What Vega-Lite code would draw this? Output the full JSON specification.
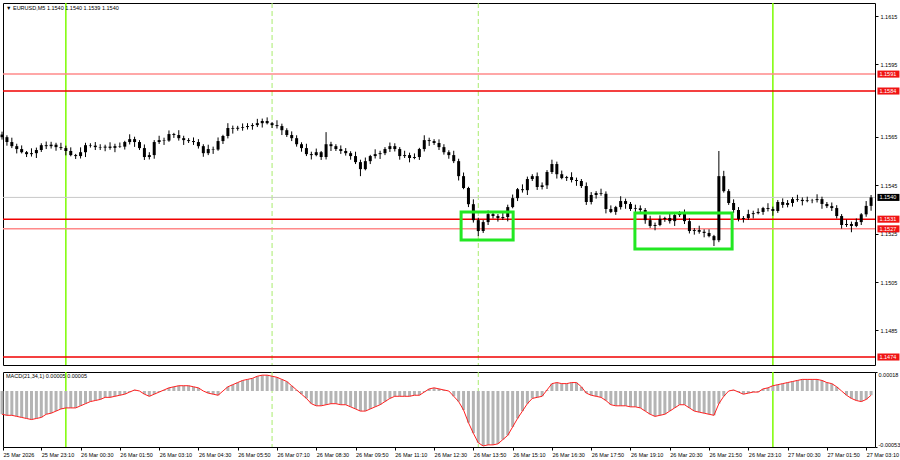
{
"$schema":"https://vega.github.io/schema/vega-lite/v6.json",
"padding":{"left":-1,"top":1,"right":0,"bottom":0},
"background":"white",
"spacing":3,
"config":{"font":"Liberation Sans","view":{"stroke":"#000000","strokeWidth":1},"scale":{"continuousPadding":0},
 "axis":{"labelFontSize":5.5,"labelColor":"#000000","tickColor":"#000000","tickSize":3,"domain":false,"grid":false,"labelPadding":2,"labelOverlap":false,"labelFlush":false},
 "axisX":{"labelAlign":"left","labelBaseline":"top","labelOverlap":false}},
"resolve":{"scale":{"x":"independent","y":"independent"}},
"datasets":{
"bars":[
{"t":"2026-03-25T21:50","o":1.1566,"h":1.15672,"l":1.15639,"c":1.15649,"m":-0.00022},
{"t":"2026-03-25T22:00","o":1.15649,"h":1.15657,"l":1.15614,"c":1.15629,"m":-0.00023},
{"t":"2026-03-25T22:10","o":1.15629,"h":1.15647,"l":1.15604,"c":1.15612,"m":-0.00023},
{"t":"2026-03-25T22:20","o":1.15612,"h":1.15622,"l":1.15582,"c":1.156,"m":-0.00024},
{"t":"2026-03-25T22:30","o":1.156,"h":1.15615,"l":1.15582,"c":1.15587,"m":-0.00025},
{"t":"2026-03-25T22:40","o":1.15587,"h":1.15592,"l":1.15567,"c":1.15579,"m":-0.00026},
{"t":"2026-03-25T22:50","o":1.15579,"h":1.15603,"l":1.15569,"c":1.15583,"m":-0.00027},
{"t":"2026-03-25T23:00","o":1.15583,"h":1.15606,"l":1.15563,"c":1.15596,"m":-0.00026},
{"t":"2026-03-25T23:10","o":1.15596,"h":1.15624,"l":1.15588,"c":1.15616,"m":-0.00025},
{"t":"2026-03-25T23:20","o":1.15616,"h":1.15631,"l":1.156,"c":1.15612,"m":-0.00022},
{"t":"2026-03-25T23:30","o":1.15612,"h":1.1563,"l":1.15602,"c":1.15618,"m":-0.00021},
{"t":"2026-03-25T23:40","o":1.15618,"h":1.15626,"l":1.15593,"c":1.15608,"m":-0.00019},
{"t":"2026-03-25T23:50","o":1.15608,"h":1.15626,"l":1.15596,"c":1.15604,"m":-0.00017},
{"t":"2026-03-26T00:00","o":1.15604,"h":1.15614,"l":1.15574,"c":1.15592,"m":-0.00016},
{"t":"2026-03-26T00:10","o":1.15592,"h":1.15607,"l":1.1557,"c":1.15575,"m":-0.00016},
{"t":"2026-03-26T00:20","o":1.15575,"h":1.1558,"l":1.15559,"c":1.15571,"m":-0.00016},
{"t":"2026-03-26T00:30","o":1.15571,"h":1.15607,"l":1.15561,"c":1.15587,"m":-0.00014},
{"t":"2026-03-26T00:40","o":1.15587,"h":1.15626,"l":1.15567,"c":1.15616,"m":-0.00012},
{"t":"2026-03-26T00:50","o":1.15616,"h":1.15624,"l":1.15606,"c":1.15614,"m":-0.0001},
{"t":"2026-03-26T01:00","o":1.15614,"h":1.15629,"l":1.15596,"c":1.15608,"m":-0.00009},
{"t":"2026-03-26T01:10","o":1.15608,"h":1.1562,"l":1.15596,"c":1.15606,"m":-0.00008},
{"t":"2026-03-26T01:20","o":1.15606,"h":1.15618,"l":1.15591,"c":1.1561,"m":-0.00006},
{"t":"2026-03-26T01:30","o":1.1561,"h":1.15628,"l":1.15597,"c":1.15605,"m":-0.00006},
{"t":"2026-03-26T01:40","o":1.15605,"h":1.15622,"l":1.15587,"c":1.15612,"m":-0.00005},
{"t":"2026-03-26T01:50","o":1.15612,"h":1.15627,"l":1.15605,"c":1.1561,"m":-0.00004},
{"t":"2026-03-26T02:00","o":1.1561,"h":1.15634,"l":1.15598,"c":1.15629,"m":-0.00003},
{"t":"2026-03-26T02:10","o":1.15629,"h":1.15661,"l":1.15619,"c":1.15641,"m":-0.00001},
{"t":"2026-03-26T02:20","o":1.15641,"h":1.15651,"l":1.15609,"c":1.15629,"m":0.00001},
{"t":"2026-03-26T02:30","o":1.15629,"h":1.15637,"l":1.15596,"c":1.15604,"m":0},
{"t":"2026-03-26T02:40","o":1.15604,"h":1.15619,"l":1.15555,"c":1.15567,"m":-0.00003},
{"t":"2026-03-26T02:50","o":1.15567,"h":1.15587,"l":1.15557,"c":1.15575,"m":-0.00005},
{"t":"2026-03-26T03:00","o":1.15575,"h":1.15637,"l":1.1556,"c":1.15629,"m":-0.00003},
{"t":"2026-03-26T03:10","o":1.15629,"h":1.15655,"l":1.15621,"c":1.15637,"m":-0.00001},
{"t":"2026-03-26T03:20","o":1.15637,"h":1.15647,"l":1.15617,"c":1.15635,"m":0.00001},
{"t":"2026-03-26T03:30","o":1.15635,"h":1.15677,"l":1.1563,"c":1.15662,"m":0.00003},
{"t":"2026-03-26T03:40","o":1.15662,"h":1.15667,"l":1.15646,"c":1.15658,"m":0.00004},
{"t":"2026-03-26T03:50","o":1.15658,"h":1.15678,"l":1.15635,"c":1.15645,"m":0.00005},
{"t":"2026-03-26T04:00","o":1.15645,"h":1.15655,"l":1.15617,"c":1.15637,"m":0.00005},
{"t":"2026-03-26T04:10","o":1.15637,"h":1.15645,"l":1.15625,"c":1.15633,"m":0.00005},
{"t":"2026-03-26T04:20","o":1.15633,"h":1.15648,"l":1.15617,"c":1.15629,"m":0.00004},
{"t":"2026-03-26T04:30","o":1.15629,"h":1.15641,"l":1.15602,"c":1.15612,"m":0.00003},
{"t":"2026-03-26T04:40","o":1.15612,"h":1.1562,"l":1.15568,"c":1.15583,"m":0},
{"t":"2026-03-26T04:50","o":1.15583,"h":1.15618,"l":1.15575,"c":1.156,"m":-0.00002},
{"t":"2026-03-26T05:00","o":1.156,"h":1.1561,"l":1.1558,"c":1.15598,"m":-0.00003},
{"t":"2026-03-26T05:10","o":1.15598,"h":1.15648,"l":1.15593,"c":1.15633,"m":-0.00004},
{"t":"2026-03-26T05:20","o":1.15633,"h":1.15659,"l":1.15621,"c":1.15654,"m":0},
{"t":"2026-03-26T05:30","o":1.15654,"h":1.15707,"l":1.15644,"c":1.15687,"m":0.00004},
{"t":"2026-03-26T05:40","o":1.15687,"h":1.15697,"l":1.15664,"c":1.15684,"m":0.00006},
{"t":"2026-03-26T05:50","o":1.15684,"h":1.15696,"l":1.15676,"c":1.15688,"m":0.00008},
{"t":"2026-03-26T06:00","o":1.15688,"h":1.15706,"l":1.15676,"c":1.15691,"m":0.0001},
{"t":"2026-03-26T06:10","o":1.15691,"h":1.15707,"l":1.15681,"c":1.15695,"m":0.00011},
{"t":"2026-03-26T06:20","o":1.15695,"h":1.15707,"l":1.1568,"c":1.15699,"m":0.00012},
{"t":"2026-03-26T06:30","o":1.15699,"h":1.15725,"l":1.15691,"c":1.15707,"m":0.00014},
{"t":"2026-03-26T06:40","o":1.15707,"h":1.15726,"l":1.15689,"c":1.15716,"m":0.00015},
{"t":"2026-03-26T06:50","o":1.15716,"h":1.15731,"l":1.15702,"c":1.15707,"m":0.00015},
{"t":"2026-03-26T07:00","o":1.15707,"h":1.15712,"l":1.15687,"c":1.15699,"m":0.00014},
{"t":"2026-03-26T07:10","o":1.15699,"h":1.15719,"l":1.15685,"c":1.15695,"m":0.00013},
{"t":"2026-03-26T07:20","o":1.15695,"h":1.15705,"l":1.15658,"c":1.15678,"m":0.00011},
{"t":"2026-03-26T07:30","o":1.15678,"h":1.15686,"l":1.1565,"c":1.15658,"m":0.00009},
{"t":"2026-03-26T07:40","o":1.15658,"h":1.15673,"l":1.15633,"c":1.15645,"m":0.00005},
{"t":"2026-03-26T07:50","o":1.15645,"h":1.15657,"l":1.1561,"c":1.1562,"m":0.00001},
{"t":"2026-03-26T08:00","o":1.1562,"h":1.15628,"l":1.15589,"c":1.15604,"m":-0.00003},
{"t":"2026-03-26T08:10","o":1.15604,"h":1.15622,"l":1.15571,"c":1.15579,"m":-0.00007},
{"t":"2026-03-26T08:20","o":1.15579,"h":1.15589,"l":1.15557,"c":1.15575,"m":-0.00012},
{"t":"2026-03-26T08:30","o":1.15575,"h":1.15602,"l":1.1557,"c":1.15587,"m":-0.00014},
{"t":"2026-03-26T08:40","o":1.15587,"h":1.15592,"l":1.15555,"c":1.15567,"m":-0.00014},
{"t":"2026-03-26T08:50","o":1.15567,"h":1.1567,"l":1.15557,"c":1.1562,"m":-0.00013},
{"t":"2026-03-26T09:00","o":1.1562,"h":1.1563,"l":1.15592,"c":1.15612,"m":-0.00012},
{"t":"2026-03-26T09:10","o":1.15612,"h":1.1562,"l":1.15592,"c":1.156,"m":-0.00012},
{"t":"2026-03-26T09:20","o":1.156,"h":1.15615,"l":1.1558,"c":1.15592,"m":-0.00013},
{"t":"2026-03-26T09:30","o":1.15592,"h":1.15604,"l":1.15573,"c":1.15583,"m":-0.00013},
{"t":"2026-03-26T09:40","o":1.15583,"h":1.15591,"l":1.15556,"c":1.15571,"m":-0.00015},
{"t":"2026-03-26T09:50","o":1.15571,"h":1.15589,"l":1.15538,"c":1.15546,"m":-0.00017},
{"t":"2026-03-26T10:00","o":1.15546,"h":1.15556,"l":1.15488,"c":1.15517,"m":-0.00019},
{"t":"2026-03-26T10:10","o":1.15517,"h":1.15565,"l":1.15512,"c":1.1555,"m":-0.00019},
{"t":"2026-03-26T10:20","o":1.1555,"h":1.15576,"l":1.15538,"c":1.15571,"m":-0.00017},
{"t":"2026-03-26T10:30","o":1.15571,"h":1.15599,"l":1.15561,"c":1.15579,"m":-0.00015},
{"t":"2026-03-26T10:40","o":1.15579,"h":1.15593,"l":1.15559,"c":1.15583,"m":-0.00013},
{"t":"2026-03-26T10:50","o":1.15583,"h":1.15608,"l":1.15575,"c":1.156,"m":-0.0001},
{"t":"2026-03-26T11:00","o":1.156,"h":1.15627,"l":1.15588,"c":1.15612,"m":-0.00007},
{"t":"2026-03-26T11:10","o":1.15612,"h":1.15624,"l":1.1559,"c":1.156,"m":-0.00005},
{"t":"2026-03-26T11:20","o":1.156,"h":1.15608,"l":1.15556,"c":1.15571,"m":-0.00005},
{"t":"2026-03-26T11:30","o":1.15571,"h":1.15593,"l":1.15563,"c":1.15575,"m":-0.00005},
{"t":"2026-03-26T11:40","o":1.15575,"h":1.15585,"l":1.15545,"c":1.15563,"m":-0.00005},
{"t":"2026-03-26T11:50","o":1.15563,"h":1.15582,"l":1.15558,"c":1.15567,"m":-0.00004},
{"t":"2026-03-26T12:00","o":1.15567,"h":1.15605,"l":1.15555,"c":1.156,"m":-0.00004},
{"t":"2026-03-26T12:10","o":1.156,"h":1.15657,"l":1.1559,"c":1.15637,"m":-0.00001},
{"t":"2026-03-26T12:20","o":1.15637,"h":1.15647,"l":1.15613,"c":1.15633,"m":0.00002},
{"t":"2026-03-26T12:30","o":1.15633,"h":1.15641,"l":1.15617,"c":1.15625,"m":0.00003},
{"t":"2026-03-26T12:40","o":1.15625,"h":1.1564,"l":1.15596,"c":1.15608,"m":0.00002},
{"t":"2026-03-26T12:50","o":1.15608,"h":1.1562,"l":1.15577,"c":1.15587,"m":0.00001},
{"t":"2026-03-26T13:00","o":1.15587,"h":1.15595,"l":1.1556,"c":1.15575,"m":0},
{"t":"2026-03-26T13:10","o":1.15575,"h":1.15593,"l":1.15542,"c":1.1555,"m":-0.00005},
{"t":"2026-03-26T13:20","o":1.1555,"h":1.1556,"l":1.1547,"c":1.15488,"m":-0.0001},
{"t":"2026-03-26T13:30","o":1.15488,"h":1.15503,"l":1.15434,"c":1.15439,"m":-0.00018},
{"t":"2026-03-26T13:40","o":1.15439,"h":1.15444,"l":1.1536,"c":1.15372,"m":-0.0003},
{"t":"2026-03-26T13:50","o":1.15372,"h":1.15392,"l":1.15296,"c":1.15306,"m":-0.0004},
{"t":"2026-03-26T14:00","o":1.15306,"h":1.15316,"l":1.1524,"c":1.15261,"m":-0.00049},
{"t":"2026-03-26T14:10","o":1.15261,"h":1.15306,"l":1.15253,"c":1.15298,"m":-0.00052},
{"t":"2026-03-26T14:20","o":1.15298,"h":1.15346,"l":1.15286,"c":1.15331,"m":-0.00051},
{"t":"2026-03-26T14:30","o":1.15331,"h":1.15343,"l":1.15313,"c":1.15323,"m":-0.00051},
{"t":"2026-03-26T14:40","o":1.15323,"h":1.15331,"l":1.153,"c":1.15315,"m":-0.0005},
{"t":"2026-03-26T14:50","o":1.15315,"h":1.15337,"l":1.15307,"c":1.15319,"m":-0.00046},
{"t":"2026-03-26T15:00","o":1.15319,"h":1.1537,"l":1.15301,"c":1.1536,"m":-0.00042},
{"t":"2026-03-26T15:10","o":1.1536,"h":1.15412,"l":1.15355,"c":1.15397,"m":-0.00034},
{"t":"2026-03-26T15:20","o":1.15397,"h":1.15439,"l":1.15385,"c":1.15434,"m":-0.00026},
{"t":"2026-03-26T15:30","o":1.15434,"h":1.15454,"l":1.1542,"c":1.1543,"m":-0.00019},
{"t":"2026-03-26T15:40","o":1.1543,"h":1.15486,"l":1.1541,"c":1.15476,"m":-0.00012},
{"t":"2026-03-26T15:50","o":1.15476,"h":1.15496,"l":1.15468,"c":1.15488,"m":-0.00007},
{"t":"2026-03-26T16:00","o":1.15488,"h":1.15503,"l":1.15431,"c":1.15443,"m":-0.00006},
{"t":"2026-03-26T16:10","o":1.15443,"h":1.15462,"l":1.15433,"c":1.1545,"m":-0.00005},
{"t":"2026-03-26T16:20","o":1.1545,"h":1.15513,"l":1.15435,"c":1.15505,"m":0.00001},
{"t":"2026-03-26T16:30","o":1.15505,"h":1.15556,"l":1.15497,"c":1.15538,"m":0.00007},
{"t":"2026-03-26T16:40","o":1.15538,"h":1.15548,"l":1.15478,"c":1.15496,"m":0.00008},
{"t":"2026-03-26T16:50","o":1.15496,"h":1.15511,"l":1.15475,"c":1.1548,"m":0.00007},
{"t":"2026-03-26T17:00","o":1.1548,"h":1.15489,"l":1.15468,"c":1.15484,"m":0.00007},
{"t":"2026-03-26T17:10","o":1.15484,"h":1.15504,"l":1.15462,"c":1.15472,"m":0.00008},
{"t":"2026-03-26T17:20","o":1.15472,"h":1.15482,"l":1.15448,"c":1.15468,"m":0.00008},
{"t":"2026-03-26T17:30","o":1.15468,"h":1.15476,"l":1.15439,"c":1.15447,"m":0.00004},
{"t":"2026-03-26T17:40","o":1.15447,"h":1.15462,"l":1.15369,"c":1.15381,"m":-0.00002},
{"t":"2026-03-26T17:50","o":1.15381,"h":1.15422,"l":1.15371,"c":1.1541,"m":-0.00004},
{"t":"2026-03-26T18:00","o":1.1541,"h":1.15426,"l":1.15395,"c":1.15418,"m":-0.00005},
{"t":"2026-03-26T18:10","o":1.15418,"h":1.15436,"l":1.15407,"c":1.15415,"m":-0.00006},
{"t":"2026-03-26T18:20","o":1.15415,"h":1.15425,"l":1.15334,"c":1.15352,"m":-0.00009},
{"t":"2026-03-26T18:30","o":1.15352,"h":1.15367,"l":1.15335,"c":1.1534,"m":-0.00013},
{"t":"2026-03-26T18:40","o":1.1534,"h":1.15365,"l":1.15328,"c":1.1536,"m":-0.00014},
{"t":"2026-03-26T18:50","o":1.1536,"h":1.15405,"l":1.1535,"c":1.15385,"m":-0.00014},
{"t":"2026-03-26T19:00","o":1.15385,"h":1.15395,"l":1.15353,"c":1.15373,"m":-0.00014},
{"t":"2026-03-26T19:10","o":1.15373,"h":1.15381,"l":1.15344,"c":1.15352,"m":-0.00015},
{"t":"2026-03-26T19:20","o":1.15352,"h":1.1537,"l":1.1534,"c":1.15355,"m":-0.00015},
{"t":"2026-03-26T19:30","o":1.15355,"h":1.15367,"l":1.15338,"c":1.15348,"m":-0.00016},
{"t":"2026-03-26T19:40","o":1.15348,"h":1.15356,"l":1.15291,"c":1.15306,"m":-0.00019},
{"t":"2026-03-26T19:50","o":1.15306,"h":1.15324,"l":1.15274,"c":1.15282,"m":-0.00022},
{"t":"2026-03-26T20:00","o":1.15282,"h":1.15296,"l":1.15264,"c":1.15286,"m":-0.00024},
{"t":"2026-03-26T20:10","o":1.15286,"h":1.15326,"l":1.15281,"c":1.15311,"m":-0.00023},
{"t":"2026-03-26T20:20","o":1.15311,"h":1.1532,"l":1.15299,"c":1.15315,"m":-0.00022},
{"t":"2026-03-26T20:30","o":1.15315,"h":1.15335,"l":1.15292,"c":1.15302,"m":-0.00019},
{"t":"2026-03-26T20:40","o":1.15302,"h":1.15337,"l":1.15282,"c":1.15327,"m":-0.00016},
{"t":"2026-03-26T20:50","o":1.15327,"h":1.15343,"l":1.15319,"c":1.15335,"m":-0.00013},
{"t":"2026-03-26T21:00","o":1.15335,"h":1.1535,"l":1.1529,"c":1.15302,"m":-0.00013},
{"t":"2026-03-26T21:10","o":1.15302,"h":1.15314,"l":1.15251,"c":1.15261,"m":-0.00016},
{"t":"2026-03-26T21:20","o":1.15261,"h":1.15273,"l":1.15246,"c":1.15265,"m":-0.00019},
{"t":"2026-03-26T21:30","o":1.15265,"h":1.15283,"l":1.1525,"c":1.15258,"m":-0.0002},
{"t":"2026-03-26T21:40","o":1.15258,"h":1.15268,"l":1.15235,"c":1.15253,"m":-0.00021},
{"t":"2026-03-26T21:50","o":1.15253,"h":1.15268,"l":1.15235,"c":1.1524,"m":-0.00022},
{"t":"2026-03-26T22:00","o":1.1524,"h":1.15245,"l":1.15199,"c":1.15223,"m":-0.00023},
{"t":"2026-03-26T22:10","o":1.15223,"h":1.15592,"l":1.15215,"c":1.15488,"m":-0.00012},
{"t":"2026-03-26T22:20","o":1.15488,"h":1.1551,"l":1.1542,"c":1.15426,"m":-0.00005},
{"t":"2026-03-26T22:30","o":1.15426,"h":1.15434,"l":1.15369,"c":1.15377,"m":0},
{"t":"2026-03-26T22:40","o":1.15377,"h":1.15392,"l":1.15336,"c":1.15348,"m":0.00001},
{"t":"2026-03-26T22:50","o":1.15348,"h":1.1536,"l":1.15301,"c":1.15311,"m":-0.00001},
{"t":"2026-03-26T23:00","o":1.15311,"h":1.15323,"l":1.15296,"c":1.15315,"m":-0.00003},
{"t":"2026-03-26T23:10","o":1.15315,"h":1.15349,"l":1.15307,"c":1.15331,"m":-0.00002},
{"t":"2026-03-26T23:20","o":1.15331,"h":1.15345,"l":1.15313,"c":1.15335,"m":-0.00001},
{"t":"2026-03-26T23:30","o":1.15335,"h":1.15355,"l":1.1533,"c":1.1534,"m":-0.00001},
{"t":"2026-03-26T23:40","o":1.1534,"h":1.15361,"l":1.15328,"c":1.15356,"m":0.00002},
{"t":"2026-03-26T23:50","o":1.15356,"h":1.15376,"l":1.15342,"c":1.15352,"m":0.00003},
{"t":"2026-03-27T00:00","o":1.15352,"h":1.15362,"l":1.15324,"c":1.15344,"m":0.00005},
{"t":"2026-03-27T00:10","o":1.15344,"h":1.15389,"l":1.15336,"c":1.15381,"m":0.00006},
{"t":"2026-03-27T00:20","o":1.15381,"h":1.15396,"l":1.15357,"c":1.15369,"m":0.00007},
{"t":"2026-03-27T00:30","o":1.15369,"h":1.15389,"l":1.15359,"c":1.15377,"m":0.00008},
{"t":"2026-03-27T00:40","o":1.15377,"h":1.15401,"l":1.15362,"c":1.15393,"m":0.00009},
{"t":"2026-03-27T00:50","o":1.15393,"h":1.15411,"l":1.15382,"c":1.1539,"m":0.0001},
{"t":"2026-03-27T01:00","o":1.1539,"h":1.154,"l":1.15367,"c":1.15385,"m":0.00011},
{"t":"2026-03-27T01:10","o":1.15385,"h":1.15403,"l":1.1538,"c":1.15388,"m":0.00011},
{"t":"2026-03-27T01:20","o":1.15388,"h":1.15394,"l":1.15376,"c":1.15389,"m":0.00011},
{"t":"2026-03-27T01:30","o":1.15389,"h":1.15413,"l":1.15379,"c":1.15393,"m":0.00011},
{"t":"2026-03-27T01:40","o":1.15393,"h":1.15403,"l":1.15353,"c":1.15373,"m":0.0001},
{"t":"2026-03-27T01:50","o":1.15373,"h":1.15381,"l":1.15356,"c":1.15364,"m":0.00008},
{"t":"2026-03-27T02:00","o":1.15364,"h":1.15379,"l":1.15344,"c":1.15356,"m":0.00007},
{"t":"2026-03-27T02:10","o":1.15356,"h":1.15368,"l":1.15313,"c":1.15323,"m":0.00004},
{"t":"2026-03-27T02:20","o":1.15323,"h":1.15331,"l":1.15271,"c":1.15286,"m":0},
{"t":"2026-03-27T02:30","o":1.15286,"h":1.15308,"l":1.15278,"c":1.1529,"m":-0.00004},
{"t":"2026-03-27T02:40","o":1.1529,"h":1.153,"l":1.15256,"c":1.15282,"m":-0.00007},
{"t":"2026-03-27T02:50","o":1.15282,"h":1.15313,"l":1.15277,"c":1.15298,"m":-0.00009},
{"t":"2026-03-27T03:00","o":1.15298,"h":1.15335,"l":1.15286,"c":1.1533,"m":-0.0001},
{"t":"2026-03-27T03:10","o":1.1533,"h":1.15385,"l":1.1532,"c":1.15365,"m":-0.00008},
{"t":"2026-03-27T03:20","o":1.15365,"h":1.1541,"l":1.15345,"c":1.154,"m":-0.00004}
],
"levels":[{"p":1.1591,"kind":"weak"},{"p":1.1584,"kind":"strong"},{"p":1.1531,"kind":"strong"},{"p":1.1527,"kind":"weak"},{"p":1.1474,"kind":"strong"}],
"bid":[{"p":1.154}],
"vlines":[{"t":"2026-03-26T00:00","kind":"day"},{"t":"2026-03-26T07:00","kind":"session"},{"t":"2026-03-26T14:00","kind":"session"},{"t":"2026-03-27T00:00","kind":"day"}],
"zones":[{"t1":"2026-03-26T13:25","t2":"2026-03-26T15:11","p1":1.1534,"p2":1.15224},{"t1":"2026-03-26T19:19","t2":"2026-03-26T22:37","p1":1.15336,"p2":1.15187}]
},
"vconcat":[
{
"width":872,"height":362,
"layer":[
{"data":{"name":"vlines"},"transform":[{"filter":"datum.kind == 'day'"}],"mark":{"type":"rule","color":"#7cfc00","strokeWidth":1.5},
 "encoding":{"x":{"field":"t","type":"temporal","title":null,"axis":null,"scale":{"padding":0,"domain":[{"year":2026,"month":3,"date":25,"hours":21,"minutes":52},{"year":2026,"month":3,"date":27,"hours":3,"minutes":28}]}}}},
{"data":{"name":"vlines"},"transform":[{"filter":"datum.kind == 'session'"}],"mark":{"type":"rule","color":"#a8ec6c","strokeWidth":1,"strokeDash":[5,3]},
 "encoding":{"x":{"field":"t","type":"temporal","title":null,"axis":null}}},
{"data":{"name":"levels"},"mark":{"type":"rule","strokeWidth":1.5},
 "encoding":{"y":{"field":"p","type":"quantitative","title":null,"scale":{"domain":[1.14707,1.16204],"zero":false,"nice":false,"padding":0},
   "axis":{"orient":"right","values":[1.1485,1.1495,1.1505,1.1515,1.1525,1.1535,1.1545,1.1555,1.1565,1.1575,1.1595,1.1605,1.1615],"format":".4f","labelFlush":false,"labelOverlap":false}},
  "color":{"field":"kind","type":"nominal","legend":null,"scale":{"domain":["strong","weak"],"range":["#f00000","#ff8a8a"]}}}},
{"data":{"name":"bid"},"mark":{"type":"rule","color":"#c8c8c8","strokeWidth":1},
 "encoding":{"y":{"field":"p","type":"quantitative","title":null,"axis":{"orient":"right"}}}},
{"data":{"name":"bars"},"mark":{"type":"rule","color":"#000000","strokeWidth":1},
 "encoding":{"x":{"field":"t","type":"temporal","title":null,"axis":null},"y":{"field":"l","type":"quantitative","title":null,"axis":{"orient":"right"}},"y2":{"field":"h"}}},
{"data":{"name":"bars"},"mark":{"type":"bar","color":"#000000","size":3},
 "encoding":{"x":{"field":"t","type":"temporal","title":null,"axis":null},"y":{"field":"o","type":"quantitative","title":null,"axis":{"orient":"right"}},"y2":{"field":"c"}}},
{"data":{"name":"zones"},"mark":{"type":"rect","fillOpacity":0,"stroke":"#22e822","strokeWidth":3},
 "encoding":{"x":{"field":"t1","type":"temporal","title":null,"axis":null},"x2":{"field":"t2"},"y":{"field":"p1","type":"quantitative","title":null,"axis":{"orient":"right"}},"y2":{"field":"p2"}}},
{"data":{"name":"levels"},"mark":{"type":"point","shape":"M0,-0.32L2,-0.32L2,0.32L0,0.32Z","filled":true,"opacity":1,"size":484,"color":"#f01414","strokeWidth":0},
 "encoding":{"x":{"datum":{"year":2026,"month":3,"date":27,"hours":3,"minutes":33},"type":"temporal","title":null,"axis":null},"y":{"field":"p","type":"quantitative","title":null,"axis":{"orient":"right"}}}},
{"data":{"name":"levels"},"mark":{"type":"text","color":"#ffffff","fontSize":5.5,"align":"left","baseline":"middle","dx":2},
 "encoding":{"x":{"datum":{"year":2026,"month":3,"date":27,"hours":3,"minutes":33},"type":"temporal","title":null,"axis":null},"y":{"field":"p","type":"quantitative","title":null,"axis":{"orient":"right"}},"text":{"field":"p","type":"quantitative","format":".4f"}}},
{"data":{"name":"bid"},"mark":{"type":"point","shape":"M0,-0.32L2,-0.32L2,0.32L0,0.32Z","filled":true,"opacity":1,"size":484,"color":"#000000","strokeWidth":0},
 "encoding":{"x":{"datum":{"year":2026,"month":3,"date":27,"hours":3,"minutes":33},"type":"temporal","title":null,"axis":null},"y":{"field":"p","type":"quantitative","title":null,"axis":{"orient":"right"}}}},
{"data":{"name":"bid"},"mark":{"type":"text","color":"#ffffff","fontSize":5.5,"align":"left","baseline":"middle","dx":2},
 "encoding":{"x":{"datum":{"year":2026,"month":3,"date":27,"hours":3,"minutes":33},"type":"temporal","title":null,"axis":null},"y":{"field":"p","type":"quantitative","title":null,"axis":{"orient":"right"}},"text":{"field":"p","type":"quantitative","format":".4f"}}},
{"data":{"values":[{"label":"▼ EURUSD,M5  1.1540 1.1540 1.1539 1.1540"}]},"mark":{"type":"text","color":"#000000","fontSize":5.5,"align":"left","baseline":"middle","dx":3},
 "encoding":{"x":{"datum":{"year":2026,"month":3,"date":25,"hours":21,"minutes":52},"type":"temporal","title":null,"axis":null},"y":{"datum":1.16185,"type":"quantitative","title":null,"axis":{"orient":"right"}},"text":{"field":"label","type":"nominal"}}}
]
},
{
"width":872,"height":75,
"layer":[
{"data":{"name":"vlines"},"transform":[{"filter":"datum.kind == 'day'"}],"mark":{"type":"rule","color":"#7cfc00","strokeWidth":1.5},
 "encoding":{"x":{"field":"t","type":"temporal","title":null,"scale":{"padding":0,"domain":[{"year":2026,"month":3,"date":25,"hours":21,"minutes":52},{"year":2026,"month":3,"date":27,"hours":3,"minutes":28}]},
   "axis":{"orient":"bottom","labelAlign":"left","labelBaseline":"top","labelFlush":false,"labelOverlap":false,"tickCount":60,"labelPadding":2,"tickSize":3,
    "values":[{"year":2026,"month":3,"date":25,"hours":21,"minutes":52},{"year":2026,"month":3,"date":25,"hours":23,"minutes":10},{"year":2026,"month":3,"date":26,"hours":0,"minutes":30},{"year":2026,"month":3,"date":26,"hours":1,"minutes":50},{"year":2026,"month":3,"date":26,"hours":3,"minutes":10},{"year":2026,"month":3,"date":26,"hours":4,"minutes":30},{"year":2026,"month":3,"date":26,"hours":5,"minutes":50},{"year":2026,"month":3,"date":26,"hours":7,"minutes":10},{"year":2026,"month":3,"date":26,"hours":8,"minutes":30},{"year":2026,"month":3,"date":26,"hours":9,"minutes":50},{"year":2026,"month":3,"date":26,"hours":11,"minutes":10},{"year":2026,"month":3,"date":26,"hours":12,"minutes":30},{"year":2026,"month":3,"date":26,"hours":13,"minutes":50},{"year":2026,"month":3,"date":26,"hours":15,"minutes":10},{"year":2026,"month":3,"date":26,"hours":16,"minutes":30},{"year":2026,"month":3,"date":26,"hours":17,"minutes":50},{"year":2026,"month":3,"date":26,"hours":19,"minutes":10},{"year":2026,"month":3,"date":26,"hours":20,"minutes":30},{"year":2026,"month":3,"date":26,"hours":21,"minutes":50},{"year":2026,"month":3,"date":26,"hours":23,"minutes":10},{"year":2026,"month":3,"date":27,"hours":0,"minutes":30},{"year":2026,"month":3,"date":27,"hours":1,"minutes":50},{"year":2026,"month":3,"date":27,"hours":3,"minutes":10}],
    "labelExpr":"datum.value < datetime(2026,2,25,22,30) ? '25 Mar 2026' : timeFormat(datum.value, '%d %b %H:%M')"}}}},
{"data":{"name":"vlines"},"transform":[{"filter":"datum.kind == 'session'"}],"mark":{"type":"rule","color":"#a8ec6c","strokeWidth":1,"strokeDash":[5,3]},
 "encoding":{"x":{"field":"t","type":"temporal","title":null,"axis":{"orient":"bottom","labelOverlap":false,"tickCount":60}}}},
{"data":{"name":"bars"},"mark":{"type":"bar","color":"#b4b4b4","size":3},
 "encoding":{"x":{"field":"t","type":"temporal","title":null,"axis":{"orient":"bottom","labelOverlap":false,"tickCount":60}},"y":{"field":"m","type":"quantitative","title":null,"scale":{"domain":[-0.00053,0.00018],"zero":false,"nice":false,"padding":0},
   "axis":{"orient":"right","values":[-0.00053,0,0.00018],"labelFlush":true,"labelOverlap":false,"tickSize":2,"labelPadding":1,"labelExpr":"datum.value == 0 ? '0.00' : (datum.value < 0 ? '-' : '') + format(abs(datum.value), '.5f')"}},"y2":{"datum":0}}},
{"data":{"name":"bars"},"mark":{"type":"line","color":"#ff2020","strokeWidth":1},
 "encoding":{"x":{"field":"t","type":"temporal","title":null,"axis":{"orient":"bottom","labelOverlap":false,"tickCount":60}},"y":{"field":"m","type":"quantitative","title":null,"axis":{"orient":"right"}}}},
{"data":{"values":[{"label":"MACD(21,34,1) 0.00005 0.00005"}]},"mark":{"type":"text","color":"#000000","fontSize":5.5,"align":"left","baseline":"middle","dx":3},
 "encoding":{"x":{"datum":{"year":2026,"month":3,"date":25,"hours":21,"minutes":52},"type":"temporal","title":null,"axis":{"orient":"bottom","labelOverlap":false,"tickCount":60}},"y":{"datum":0.00014,"type":"quantitative","title":null,"axis":{"orient":"right"}},"text":{"field":"label","type":"nominal"}}}
]
}
]
}
